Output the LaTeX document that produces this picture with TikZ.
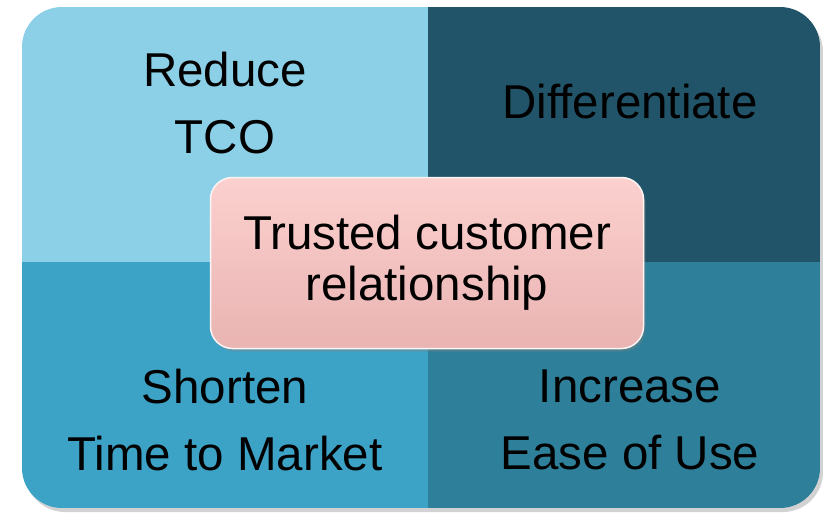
\documentclass[tikz,border=0pt]{standalone}
\usepackage{fontspec}
\setmainfont{Liberation Sans}
\usetikzlibrary{shadows}
\definecolor{qlight}{HTML}{8CD0E8}
\definecolor{qdark}{HTML}{215468}
\definecolor{qmid}{HTML}{3DA3C6}
\definecolor{qdeep}{HTML}{2E7F9A}
\definecolor{pinktop}{HTML}{FBD0CE}
\definecolor{pinkbot}{HTML}{E9B4B2}
\tikzstyle{label}=[align=center,font=\fontsize{47.5}{67}\selectfont,inner sep=0pt]
\tikzstyle{core} = [label, font=\fontsize{47.5}{51}\selectfont, rounded corners=22pt,
    top color=pinktop, bottom color=pinkbot, draw=white!85!pinkbot, line width=1.5pt,
    drop shadow={opacity=0.35,shadow xshift=2pt,shadow yshift=-3pt},
    minimum width=433pt, minimum height=171pt]

\begin{document}
\begin{tikzpicture}[x=1pt,y=-1pt]
    \useasboundingbox (0,0) rectangle (823,515);
    % Outer frame with shadow
    \fill[black!35,opacity=0.5,rounded corners=40pt] (25,12) rectangle (823,512);
    \begin{scope}
        \clip[rounded corners=40pt] (22,7) rectangle (820,508);
        % The four quadrants
        \foreach \a/\b/\c in {{(22,7)/(428,262)/qlight}, {(428,7)/(820,262)/qdark},
                              {(22,262)/(428,508)/qmid}, {(428,262)/(820,508)/qdeep}}
            \fill[\c] \a rectangle \b;
    \end{scope}

    % Quadrant texts
    \foreach \pos/\name/\txt in {{(225,103)/tco/Reduce\\TCO}, {(630,102)/diff/Differentiate},
            {(225,420)/ttm/Shorten\\Time to Market}, {(630,420)/ease/Increase\\Ease of Use}}
        \node[label] (\name) at \pos {\txt};

    % Centre box
    \node[core] (trust) at (427,263) {Trusted customer\\relationship};
\end{tikzpicture}
\end{document}
